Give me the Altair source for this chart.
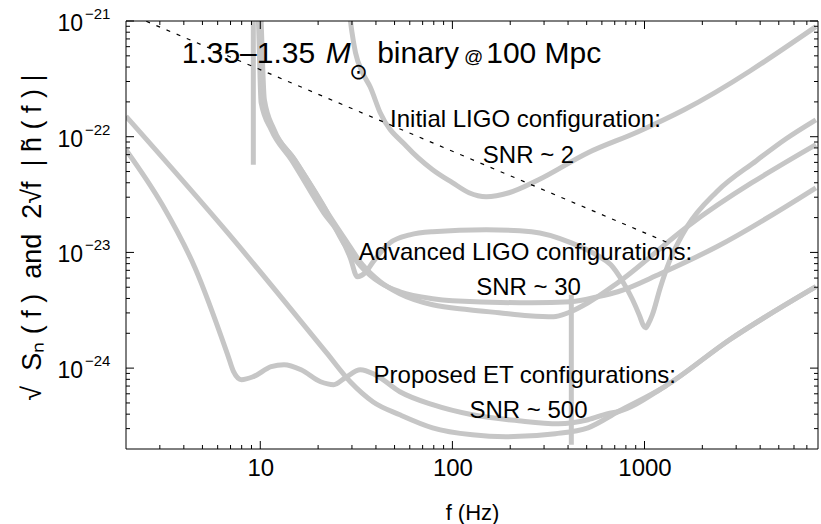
import altair as alt
import pandas as pd

FONT = "Liberation Sans"
GRAY = "#c6c6c6"

# ---- noise curves: frequency (Hz) and amplitude (1/sqrt(Hz)) ----
initial_f = [28.8, 30.0, 31.3, 34.0, 37.3, 42.1, 58.0, 78.9, 100, 122, 150, 197, 281, 508, 920,
             1607, 7800]
initial_s = [1.38e-21, 8.0e-22, 5.33e-22, 3.6e-22, 2.70e-22, 1.61e-22, 8.20e-23, 5.19e-23,
             4.01e-23, 3.28e-23, 3.03e-23, 3.28e-23, 4.25e-23, 7.28e-23, 1.10e-22, 1.71e-22,
             8.94e-22]

adv_nb_f = [9.66, 9.77, 10.1, 11.4, 14.5, 21.4, 26.2, 29.4, 32.0, 35.2, 38.7, 47.3, 60.0, 78.9,
            150, 258, 416, 572, 668, 771, 867, 942, 985, 1012, 1045, 1099, 1208, 1346, 1667,
            2377, 3823, 5458, 7800]
adv_nb_s = [1.38e-21, 1.03e-21, 1.97e-22, 1.15e-22, 6.33e-23, 2.20e-23, 1.37e-23, 9.00e-24,
            6.17e-24, 6.68e-24, 8.31e-24, 1.21e-23, 1.42e-23, 1.51e-23, 1.57e-23, 1.51e-23,
            1.21e-23, 9.36e-24, 7.83e-24, 5.58e-24, 3.90e-24, 2.84e-24, 2.35e-24, 2.23e-24,
            2.40e-24, 2.90e-24, 4.95e-24, 8.31e-24, 1.67e-23, 3.35e-23, 6.21e-23, 9.61e-23,
            1.40e-22]

adv_a_f = [9.77, 9.88, 10.2, 11.5, 14.8, 21.9, 27.1, 33.2, 42.1, 53.3, 78.9, 100, 258, 416,
           572, 726, 1208, 2377, 7800]
adv_a_s = [1.69e-21, 1.03e-21, 2.09e-22, 1.20e-22, 6.58e-23, 2.34e-23, 1.21e-23, 7.67e-24,
           5.47e-24, 4.57e-24, 3.98e-24, 3.83e-24, 3.67e-24, 3.75e-24, 4.14e-24, 4.57e-24,
           6.54e-24, 1.12e-23, 3.62e-23]

adv_b_f = [10.0, 10.1, 10.5, 11.8, 15.1, 22.4, 27.7, 34.0, 42.1, 53.3, 78.9, 122, 175, 249,
           336, 401, 508, 726, 1667, 7800]
adv_b_s = [1.69e-21, 1.03e-21, 2.09e-22, 1.15e-22, 6.33e-23, 2.20e-23, 1.29e-23, 7.83e-24,
           5.58e-24, 4.40e-24, 3.53e-24, 3.20e-24, 3.01e-24, 2.84e-24, 2.78e-24, 3.01e-24,
           3.67e-24, 5.47e-24, 1.67e-23, 8.53e-23]

spike_lo_f = [9.2, 9.2]
spike_lo_s = [5.73e-23, 1.6e-21]
spike_hi_f = [416, 416]
spike_hi_s = [4.3e-24, 2.18e-25]

et_b_f = [2.0, 6.76, 22.1, 29.4, 38.7, 53.3, 78.9, 127, 190, 344, 508, 726, 1268, 2774, 7800]
et_b_s = [1.5e-22, 1.48e-23, 1.36e-24, 7.62e-25, 5.10e-25, 3.95e-25, 3.05e-25, 2.65e-25,
          2.55e-25, 2.71e-25, 3.05e-25, 4.20e-25, 6.9e-25, 1.76e-24, 5.06e-24]

et_c_f = [2.0, 3.09, 4.57, 6.76, 7.26, 7.98, 9.20, 11.4, 13.3, 16.3, 20.6, 24.1, 27.7, 33.2,
          39.6, 53.3, 78.9, 127, 221, 356, 508, 644, 726, 1268, 2774, 7800]
et_c_s = [7.7e-23, 2.58e-23, 7.38e-24, 1.31e-24, 9.31e-25, 7.94e-25, 8.43e-25, 1.03e-24,
          1.07e-24, 9.68e-25, 7.62e-25, 7.19e-25, 8.26e-25, 9.68e-25, 8.77e-25, 6.25e-25,
          4.83e-25, 3.95e-25, 3.51e-25, 3.31e-25, 3.58e-25, 4.04e-25, 4.20e-25, 6.9e-25,
          1.76e-24, 5.06e-24]

# binary signal 2 sqrt(f) |h(f)|
signal_f = [2.0, 1315]
signal_s = [1.18e-21, 1.22e-23]

# ---- axis ticks ----
x_major = [10, 100, 1000]
x_minor = [m * d for d in (1, 10, 100, 1000) for m in range(2, 10) if 2 < m * d < 8000]
y_major = [1e-24, 1e-23, 1e-22, 1e-21]
y_minor = [m * d for d in (1e-25, 1e-24, 1e-23, 1e-22) for m in range(2, 10) if m * d > 2.01e-25]
y_exp = ["\u221224", "\u221223", "\u221222", "\u221221"]

SP = "\u00a0"
Y_TITLE = ("\u221a" + SP * 2 + "S\u2099" + SP + "(" + SP + "f" + SP + ")" + SP * 2 + "and"
           + SP * 2 + "2\u221af" + SP * 2 + "|" + SP + "h\u0303" + SP + "(" + SP + "f"
           + SP + ")" + SP + "|")


def series(name, fs, ss):
    return pd.DataFrame({"curve": name, "i": range(len(fs)), "f": fs, "s": ss})


curve_df = pd.concat([
    series("initial", initial_f, initial_s),
    series("adv_nb", adv_nb_f, adv_nb_s),
    series("adv_a", adv_a_f, adv_a_s),
    series("adv_b", adv_b_f, adv_b_s),
    series("spike_lo", spike_lo_f, spike_lo_s),
    series("spike_hi", spike_hi_f, spike_hi_s),
    series("et_b", et_b_f, et_b_s),
    series("et_c", et_c_f, et_c_s),
])
signal_df = series("signal", signal_f, signal_s)

W, H = 692, 428
xs = alt.Scale(type="log", domain=[2, 8000], nice=False)
ys = alt.Scale(type="log", domain=[2e-25, 1e-21], nice=False)

x_axis = alt.Axis(values=x_major, format="d", labelFont=FONT, labelFontSize=24,
                  labelColor="black", labelPadding=7, ticks=False, domain=False, grid=False,
                  title="f (Hz)", titleFont=FONT, titleFontSize=22, titleFontWeight="normal",
                  titleColor="black", titleY=63, titleBaseline="middle")
y_axis = alt.Axis(labels=False, ticks=False, domain=False, grid=False,
                  title=Y_TITLE,
                  titleFont=FONT, titleFontSize=27, titleFontWeight="normal", titleColor="black",
                  titleAngle=270, titleX=-94, titleY=216, titleAlign="center",
                  titleBaseline="middle")


def X():
    return alt.X("f:Q", scale=xs, axis=x_axis)


def Y():
    return alt.Y("s:Q", scale=ys, axis=y_axis)


curves = alt.Chart(curve_df).mark_line(
    clip=True, color=GRAY, strokeWidth=5, strokeCap="butt", strokeJoin="round",
    interpolate="monotone"
).encode(x=X(), y=Y(), detail="curve:N", order="i:Q")

signal = alt.Chart(signal_df).mark_line(
    clip=True, color="black", strokeWidth=1.2, strokeDash=[4, 7]
).encode(x=X(), y=Y(), order="i:Q")


def xticks(vals, length):
    base = alt.Chart(pd.DataFrame({"f": vals})).mark_rule(color="black", strokeWidth=1)
    bottom = base.encode(x=X(), y=alt.value(H), y2=alt.value(H - length))
    top = base.encode(x=X(), y=alt.value(0), y2=alt.value(length))
    return [bottom, top]


def yticks(vals, length):
    base = alt.Chart(pd.DataFrame({"s": vals})).mark_rule(color="black", strokeWidth=1)
    left = base.encode(y=Y(), x=alt.value(0), x2=alt.value(length))
    right = base.encode(y=Y(), x=alt.value(W), x2=alt.value(W - length))
    return [left, right]


# plot frame
frame_df = pd.DataFrame({"k": [0]})
frame = [
    alt.Chart(frame_df).mark_rule(color="black", strokeWidth=1).encode(
        x=alt.value(0), y=alt.value(0), y2=alt.value(H)),
    alt.Chart(frame_df).mark_rule(color="black", strokeWidth=1).encode(
        x=alt.value(W), y=alt.value(0), y2=alt.value(H)),
    alt.Chart(frame_df).mark_rule(color="black", strokeWidth=1).encode(
        y=alt.value(0), x=alt.value(0), x2=alt.value(W)),
    alt.Chart(frame_df).mark_rule(color="black", strokeWidth=1).encode(
        y=alt.value(H), x=alt.value(0), x2=alt.value(W)),
]

ylab_df = pd.DataFrame({"s": y_major, "exp": y_exp, "base": "10"})
ylab_base = alt.Chart(ylab_df).mark_text(
    font=FONT, fontSize=23, align="right", baseline="middle", dy=3, color="black"
).encode(y=Y(), x=alt.value(-43), text="base:N")
ylab_exp = alt.Chart(ylab_df).mark_text(
    font=FONT, fontSize=15, align="left", baseline="middle", dy=-7, color="black"
).encode(y=Y(), x=alt.value(-41), text="exp:N")

# ---- annotations (anchored in data coordinates) ----
title_parts = pd.DataFrame({
    "t": ["1.35\u20131.35", "binary", "100 Mpc"],
    "f": [3.9, 40.6, 150],
    "s": [4.37e-22, 4.37e-22, 4.37e-22],
})
title_txt = alt.Chart(title_parts).mark_text(
    font=FONT, fontSize=30, align="left", baseline="alphabetic", color="black"
).encode(x=X(), y=Y(), text="t:N")

mass_df = pd.DataFrame({"t": ["M"], "f": [21.9], "s": [4.37e-22]})
mass_txt = alt.Chart(mass_df).mark_text(
    font=FONT, fontSize=30, fontStyle="italic", align="left", baseline="alphabetic",
    color="black"
).encode(x=X(), y=Y(), text="t:N")

sun_df = pd.DataFrame({"t": ["\u2299"], "f": [32.4], "s": [3.6e-22]})
sun_txt = alt.Chart(sun_df).mark_text(
    font="DejaVu Sans", fontSize=22, align="center", baseline="middle", color="black"
).encode(x=X(), y=Y(), text="t:N")

at_df = pd.DataFrame({"t": ["@"], "f": [115], "s": [4.37e-22]})
at_txt = alt.Chart(at_df).mark_text(
    font=FONT, fontSize=19, align="left", baseline="alphabetic", color="black"
).encode(x=X(), y=Y(), text="t:N")

notes = pd.DataFrame({
    "t": ["Initial LIGO configuration:", "SNR ~ 2",
          "Advanced LIGO configurations:", "SNR ~ 30",
          "Proposed ET configurations:", "SNR ~ 500"],
    "f": [240, 249, 240, 249, 238, 249],
    "s": [1.22e-22, 5.96e-23, 8.65e-24, 4.31e-24, 7.48e-25, 3.72e-25],
})
notes_txt = alt.Chart(notes).mark_text(
    font=FONT, fontSize=24, align="center", baseline="alphabetic", color="black"
).encode(x=X(), y=Y(), text="t:N")

layers = [curves, signal] + frame
layers += xticks(x_major, 8) + xticks(x_minor, 4)
layers += yticks(y_major, 8) + yticks(y_minor, 4)
layers += [ylab_base, ylab_exp, title_txt, mass_txt, sun_txt, at_txt, notes_txt]

chart = alt.layer(*layers).properties(
    width=W, height=H,
    autosize=alt.AutoSizeParams(type="none"),
    padding={"left": 126, "top": 21, "right": 3, "bottom": 75},
).configure(background="white").configure_view(stroke=None)

chart.save("out.html", embed_options={"renderer": "svg", "actions": False})
